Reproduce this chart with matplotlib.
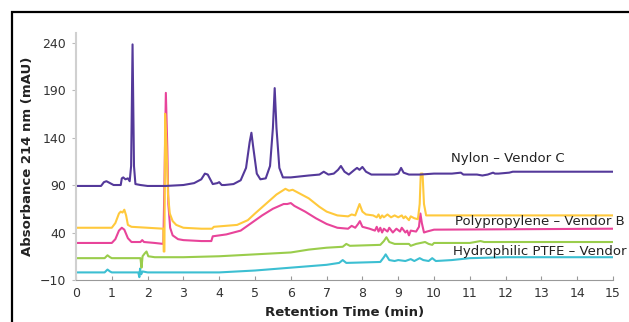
import matplotlib
matplotlib.use("Agg")
import matplotlib.pyplot as plt
from matplotlib.patches import Rectangle
import numpy as np

# chromatogram traces: (retention time min, absorbance mAU)
nylon = [(0, 89), (0.7, 89), (0.78, 93), (0.85, 94), (0.95, 92), (1.05, 90), (1.25, 90),
         (1.28, 97), (1.32, 98), (1.38, 96), (1.45, 97), (1.5, 94), (1.54, 110), (1.58, 238),
         (1.62, 110), (1.66, 91), (1.8, 90), (2.0, 89), (2.5, 89), (3.0, 90), (3.3, 92),
         (3.5, 96), (3.6, 102), (3.68, 101), (3.75, 96), (3.82, 91), (3.95, 92), (4.0, 93),
         (4.07, 90), (4.15, 90), (4.4, 91), (4.6, 95), (4.75, 108), (4.85, 135), (4.9, 145),
         (4.95, 130), (5.05, 102), (5.15, 96), (5.3, 97), (5.42, 110), (5.5, 150), (5.55, 192),
         (5.6, 150), (5.68, 108), (5.78, 98), (6.0, 98), (6.5, 100), (6.8, 101), (6.92, 104),
         (7.05, 101), (7.2, 102), (7.32, 106), (7.4, 110), (7.5, 104), (7.62, 101), (7.78, 106),
         (7.85, 108), (7.92, 106), (8.0, 109), (8.1, 104), (8.25, 101), (8.5, 101), (8.9, 101),
         (9.0, 102), (9.08, 108), (9.15, 103), (9.3, 101), (9.6, 101), (10.0, 102), (10.5, 102),
         (10.75, 103), (10.82, 101), (10.9, 101), (11.2, 101), (11.35, 100), (11.5, 101),
         (11.65, 103), (11.7, 102), (11.8, 102), (12.1, 103), (12.2, 104), (13.0, 104),
         (14.0, 104), (15.0, 104)]

polypropylene = [(0, 45), (1.0, 45), (1.1, 50), (1.2, 60), (1.25, 62), (1.3, 61), (1.35, 64),
                 (1.4, 58), (1.45, 48), (1.55, 46), (2.0, 45), (2.44, 44), (2.45, 20), (2.47, 20),
                 (2.49, 165), (2.53, 130), (2.57, 80), (2.62, 60), (2.7, 52), (2.8, 48), (3.0, 45),
                 (3.5, 44), (3.8, 44), (3.85, 46), (4.5, 48), (4.8, 53), (5.0, 60), (5.3, 70),
                 (5.6, 80), (5.85, 86), (5.95, 84), (6.05, 85), (6.2, 82), (6.5, 76), (6.8, 67),
                 (7.0, 62), (7.3, 58), (7.6, 57), (7.7, 59), (7.8, 58), (7.85, 63), (7.92, 70),
                 (8.0, 62), (8.1, 59), (8.3, 58), (8.4, 56), (8.45, 59), (8.5, 55), (8.55, 58),
                 (8.6, 56), (8.7, 59), (8.8, 56), (8.9, 58), (9.0, 56), (9.1, 58), (9.15, 55),
                 (9.2, 57), (9.3, 53), (9.35, 57), (9.45, 55), (9.55, 54), (9.6, 70), (9.63, 102),
                 (9.68, 102), (9.72, 70), (9.78, 58), (10.0, 58), (15.0, 58)]

pp_pink = [(0, 29), (1.0, 29), (1.1, 33), (1.2, 42), (1.28, 45), (1.35, 43), (1.45, 34),
           (1.55, 30), (1.8, 30), (1.85, 32), (1.9, 30), (2.2, 29), (2.44, 28), (2.47, 90),
           (2.51, 187), (2.55, 130), (2.58, 70), (2.63, 45), (2.7, 37), (2.85, 33), (3.0, 32),
           (3.5, 31), (3.78, 31), (3.82, 36), (4.2, 38), (4.6, 42), (4.9, 50), (5.2, 58),
           (5.5, 65), (5.8, 70), (5.9, 70), (6.0, 71), (6.1, 68), (6.4, 62), (6.7, 55), (7.0, 49),
           (7.3, 45), (7.6, 44), (7.7, 47), (7.8, 45), (7.88, 49), (7.93, 52), (8.0, 46),
           (8.2, 44), (8.35, 42), (8.4, 46), (8.45, 41), (8.5, 45), (8.55, 40), (8.6, 44),
           (8.7, 41), (8.75, 45), (8.85, 40), (8.95, 44), (9.05, 41), (9.1, 45), (9.2, 40),
           (9.25, 42), (9.3, 37), (9.35, 42), (9.5, 41), (9.58, 46), (9.62, 60), (9.66, 50),
           (9.72, 40), (9.8, 41), (10.0, 43), (15.0, 44)]

ptfe_green = [(0, 13), (0.8, 13), (0.88, 16), (0.95, 14), (1.0, 13), (1.8, 13), (1.83, 3),
              (1.86, 15), (1.92, 18), (1.97, 20), (2.02, 15), (2.2, 14), (3.0, 14), (4.0, 15),
              (5.0, 17), (6.0, 19), (6.5, 22), (7.0, 24), (7.45, 25), (7.55, 28), (7.65, 26),
              (8.5, 27), (8.6, 31), (8.67, 35), (8.75, 30), (8.9, 28), (9.3, 28), (9.35, 26),
              (9.5, 28), (9.75, 30), (9.85, 28), (9.95, 27), (10.0, 29), (11.0, 29), (11.3, 31),
              (11.4, 30), (15.0, 30)]

ptfe_cyan = [(0, -2), (0.8, -2), (0.88, 1), (0.95, -1), (1.0, -2), (1.74, -2), (1.77, -7),
             (1.79, 2), (1.82, -4), (1.86, -1), (2.0, -2), (3.0, -2), (4.0, -2), (5.0, 0),
             (6.0, 3), (7.0, 6), (7.35, 8), (7.45, 11), (7.55, 8), (8.5, 9), (8.6, 14),
             (8.65, 17), (8.75, 11), (8.9, 10), (9.0, 11), (9.2, 10), (9.35, 12), (9.45, 10),
             (9.6, 13), (9.7, 11), (9.85, 10), (9.95, 13), (10.05, 10), (10.5, 11), (11.0, 13),
             (12.0, 14), (15.0, 14)]

series = [(ptfe_cyan, "#3cbfd2"), (ptfe_green, "#9acd4c"), (pp_pink, "#e8449a"),
          (polypropylene, "#ffc93c"), (nylon, "#54399a")]

labels = ["Nylon \u2013 Vendor C", "Polypropylene \u2013 Vendor B", "Hydrophilic PTFE \u2013 Vendor A"]
label_pos = [(10.47, 118), (10.6, 52), (10.53, 20)]

xticks = list(range(0, 16))
yticks = [-10, 40, 90, 140, 190, 240]

plt.rcParams['font.family'] = ['DejaVu Sans']
fig = plt.figure(figsize=(6.29, 3.22), dpi=100)
ax = fig.add_axes([0.1208, 0.1304, 0.8538, 0.7671])

for pts, col in series:
    t, y = np.array(pts).T
    ax.plot(t, y, color=col, lw=1.5, solid_joinstyle='round')

for txt, (x, y) in zip(labels, label_pos):
    ax.text(x, y, txt, fontsize=9.5, color="#222222", va='center', clip_on=False)

ax.set_xlim(0, 15)
ax.set_ylim(-10, 250)
ax.set_xticks(xticks)
ax.set_yticks(yticks)
ax.tick_params(axis='x', direction='in', length=3, colors='#999999', labelcolor='#333333',
               labelsize=9, pad=5)
ax.tick_params(axis='y', direction='out', length=3, colors='#bbbbbb', labelcolor='#333333',
               labelsize=9, pad=4)
for s in ['top', 'right']:
    ax.spines[s].set_visible(False)
ax.spines['left'].set_color('#d0d0d0')
ax.spines['left'].set_linewidth(1.5)
ax.spines['bottom'].set_color('#999999')
ax.spines['bottom'].set_bounds(0, 15)
ax.set_xlabel("Retention Time (min)", fontsize=9.5, fontweight='bold', color='#222222', labelpad=4)
ax.set_ylabel("Absorbance 214 nm (mAU)", fontsize=9.5, fontweight='bold', color='#222222', labelpad=4)

# black outer frame, partly cropped off the picture
fig.patches.append(Rectangle((12 / 629, -0.2), 1.2, 1.2 - 12 / 322, transform=fig.transFigure,
                             fill=False, edgecolor='black', lw=1.6))

fig.savefig("out.png", dpi=100)
